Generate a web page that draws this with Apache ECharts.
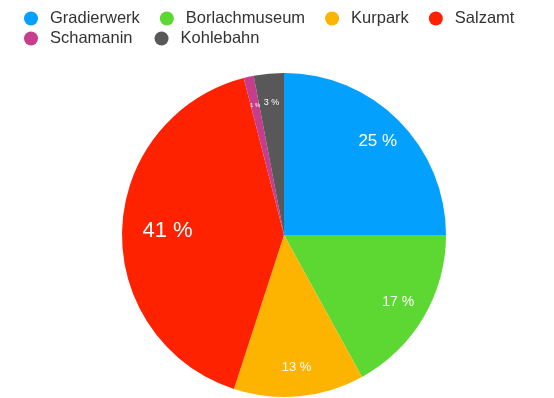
<!DOCTYPE html>
<html>
<head>
<meta charset="utf-8">
<script src="https://cdn.jsdelivr.net/npm/echarts@6/dist/echarts.min.js"></script>
<style>
  html, body { margin: 0; padding: 0; background: #fff; }
  #chart { width: 554px; height: 398px; }
</style>
</head>
<body>
<div id="chart"></div>
<script>
const names = ["Gradierwerk", "Borlachmuseum", "Kurpark", "Salzamt", "Schamanin", "Kohlebahn"];
const values = [25, 17, 13, 41, 1, 3];
const colors = ["#03a0fe", "#5dd732", "#fdb400", "#fe2200", "#c53d8c", "#585858"];
const labelSizes = [17, 14, 13, 22, 6, 9];

const chart = echarts.init(document.getElementById("chart"), null, { renderer: "canvas" });

const pieData = names.map((n, i) => ({
  name: n,
  value: values[i],
  itemStyle: { color: colors[i] },
}));

// 41 % sits a bit closer to the centre in the original, nudge it with padding
const labelData = names.map((n, i) => ({
  name: n,
  value: values[i],
  label: { fontSize: labelSizes[i], padding: n === "Salzamt" ? [0, 0, 0, 32] : 0 },
}));

const center = [284, 235];
const radius = 162;
const font = "Liberation Sans, Arial, sans-serif";

const legendBase = {
  left: 19,
  icon: "circle",
  itemWidth: 28,
  itemHeight: 14,
  textStyle: { fontSize: 16.5, color: "#333", fontFamily: font },
};

chart.setOption({
  animation: false,
  legend: [
    { ...legendBase, data: names.slice(0, 4), top: 5, itemGap: 20 },
    { ...legendBase, data: names.slice(4), top: 25, itemGap: 22 },
  ],
  series: [
    {
      type: "pie",
      center,
      radius,
      startAngle: 90,
      clockwise: true,
      data: pieData,
      label: { show: false },
      labelLine: { show: false },
      silent: true,
    },
    {
      // transparent ring only used to place the labels further out
      type: "pie",
      center,
      radius: [radius * 0.6, radius],
      startAngle: 90,
      clockwise: true,
      data: labelData,
      itemStyle: { color: "transparent" },
      label: {
        show: true,
        position: "inside",
        formatter: "{c} %",
        color: "#fff",
        fontFamily: font,
      },
      labelLine: { show: false },
      silent: true,
    },
  ],
});
</script>
</body>
</html>
